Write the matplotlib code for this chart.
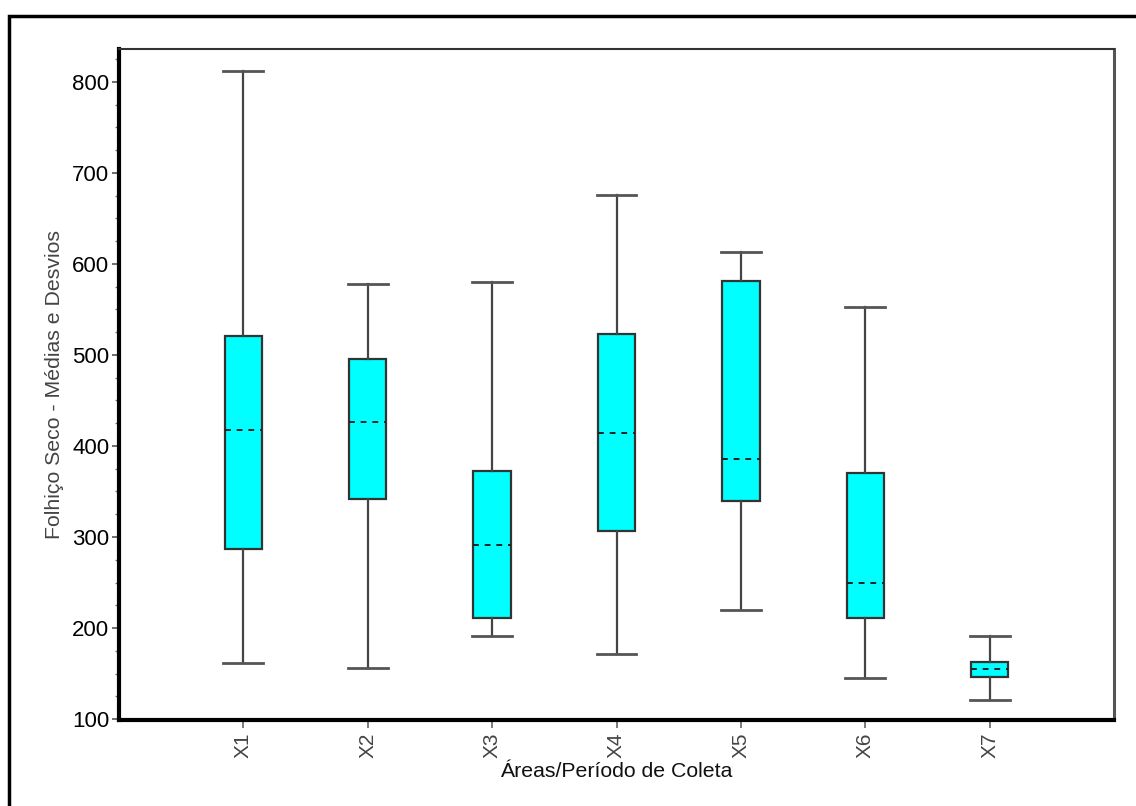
import matplotlib
matplotlib.use("Agg")
import matplotlib.pyplot as plt
from matplotlib.patches import Rectangle
from matplotlib.ticker import MultipleLocator

plt.rcParams['font.family'] = ['Liberation Sans', 'DejaVu Sans']

categories = ["X1", "X2", "X3", "X4", "X5", "X6", "X7"]
whisker_low = [162, 156, 191, 172, 220, 145, 121]
q1 = [287, 342, 211, 307, 340, 211, 146]
median = [417, 426, 291, 414, 386, 250, 155]
q3 = [521, 495, 373, 523, 581, 370, 163]
whisker_high = [812, 578, 580, 676, 613, 553, 191]

fig = plt.figure(figsize=(11.36, 8.06), dpi=100)
ax = fig.add_axes([119/1136, 1 - 720/806, (1114 - 119)/1136, (720 - 49)/806])

stats = []
for i, c in enumerate(categories):
    stats.append(dict(label=c, whislo=whisker_low[i], q1=q1[i], med=median[i],
                      q3=q3[i], whishi=whisker_high[i], fliers=[]))

positions = list(range(1, len(categories) + 1))
ax.bxp(stats, positions=positions, widths=0.30, patch_artist=True,
       showfliers=False,
       boxprops=dict(facecolor='#00FFFF', edgecolor='#333333', linewidth=1.6),
       medianprops=dict(color='#222222', linewidth=1.4, linestyle=(0, (3, 3))),
       whiskerprops=dict(color='#444444', linewidth=1.6),
       capprops=dict(color='#555555', linewidth=2.0),
       capwidths=0.32)

ax.set_xlim(0, 8)
ax.set_ylim(99, 836)
ax.yaxis.set_major_locator(MultipleLocator(100))
ax.yaxis.set_minor_locator(MultipleLocator(25))
ax.set_xticks(positions)
ax.set_xticklabels(categories, rotation=90, color='#444444')

ax.tick_params(axis='y', which='major', length=5, width=1.2, color='#555555',
               labelsize=16, labelcolor='black', pad=2)
ax.tick_params(axis='y', which='minor', length=3, width=1.0, color='#777777')
ax.tick_params(axis='x', which='major', length=6, width=1.2, color='#666666',
               labelsize=15, pad=3)

for s in ['left', 'bottom']:
    ax.spines[s].set_linewidth(3)
    ax.spines[s].set_color('black')
ax.spines['top'].set_linewidth(1.5)
ax.spines['top'].set_color('#333333')
ax.spines['right'].set_linewidth(2.2)
ax.spines['right'].set_color('#555555')

ax.set_xlabel("Áreas/Período de Coleta", fontsize=15.3, color='#111111', labelpad=3)
ax.set_ylabel("Folhiço Seco - Médias e Desvios", fontsize=15.3, color='#444444', labelpad=6)

frame = Rectangle((8.5/1136, -0.1), 1.2, 1 - 15.7/806 + 0.1, transform=fig.transFigure,
                  fill=False, edgecolor='black', linewidth=2.5, clip_on=False)
fig.add_artist(frame)

fig.savefig("out.png", dpi=100)
